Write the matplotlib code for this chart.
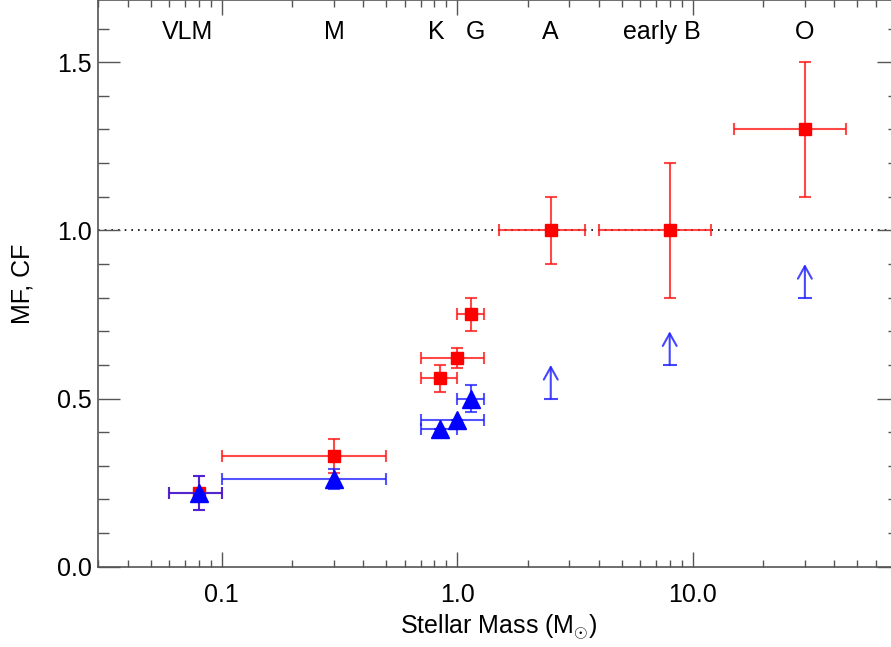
import numpy as np
import matplotlib
matplotlib.use("Agg")
import matplotlib.pyplot as plt
from matplotlib.ticker import FixedLocator, MultipleLocator, LogLocator, FormatStrFormatter, NullFormatter

plt.rcParams["font.family"] = ["Liberation Sans", "DejaVu Sans"]
plt.rcParams["mathtext.fontset"] = "custom"
plt.rcParams["mathtext.rm"] = "Liberation Sans"
plt.rcParams["mathtext.it"] = "Liberation Sans:italic"

# multiplicity fraction (red squares)
mf_mass = [0.08, 0.3, 0.85, 1.0, 1.15, 2.5, 8.0, 30.0]
mf_lo = [0.06, 0.1, 0.7, 0.7, 1.0, 1.5, 4.0, 15.0]
mf_hi = [0.1, 0.5, 1.0, 1.3, 1.3, 3.5, 12.0, 45.0]
mf_val = [0.22, 0.33, 0.56, 0.62, 0.75, 1.0, 1.0, 1.3]
mf_err = [0.05, 0.05, 0.04, 0.03, 0.05, 0.1, 0.2, 0.2]

# companion frequency (blue triangles)
cf_mass = [0.08, 0.3, 0.85, 1.0, 1.15]
cf_lo = [0.06, 0.1, 0.7, 0.7, 1.0]
cf_hi = [0.1, 0.5, 1.0, 1.3, 1.3]
cf_val = [0.22, 0.26, 0.41, 0.437, 0.50]
cf_err = [0.05, 0.03, 0.0, 0.0, 0.04]

# CF lower limits (arrows)
lim_mass = [2.5, 8.0, 30.0]
lim_val = [0.5, 0.6, 0.8]

# spectral type labels
sp_names = ["VLM", "M", "K", "G", "A", "early B", "O"]
sp_mass = [0.072, 0.30, 0.815, 1.2, 2.5, 7.4, 30.0]

fig = plt.figure(figsize=(8.91, 6.47), dpi=100)
ax = fig.add_axes([0.1105, 0.124, 0.898, 0.876])
ax.set_xscale("log")
ax.set_xlim(0.03, 75)
ax.set_ylim(0.0, 1.685)

ax.axhline(1.0, color="black", ls=(0, (1, 3)), lw=1.2, zorder=1)

def xerrs(m, lo, hi):
    m = np.array(m)
    return [m - np.array(lo), np.array(hi) - m]

ax.errorbar(mf_mass, mf_val, yerr=mf_err, xerr=xerrs(mf_mass, mf_lo, mf_hi),
            fmt="s", color="red", ecolor=(1, 0.1, 0.1, 0.8), ms=9, capsize=4,
            elinewidth=1.5, capthick=1.5, zorder=3)
ax.errorbar(cf_mass, cf_val, yerr=cf_err, xerr=xerrs(cf_mass, cf_lo, cf_hi),
            fmt="^", color="blue", ecolor=(0.1, 0.1, 1, 0.75), ms=13, capsize=4,
            elinewidth=1.5, capthick=1.5, zorder=4)

for m, v in zip(lim_mass, lim_val):
    ax.annotate("", xy=(m, v + 0.1), xytext=(m, v),
                arrowprops=dict(arrowstyle="->,head_length=0.9,head_width=0.5",
                                color=(0.15, 0.15, 1, 0.85), lw=1.5,
                                shrinkA=0, shrinkB=0))
    ax.plot([m], [v], marker="_", ms=10, mew=1.5, color=(0.15, 0.15, 1, 0.85))

for name, m in zip(sp_names, sp_mass):
    ax.text(m, 1.59, name, ha="center", va="center", fontsize=18)

ax.xaxis.set_major_locator(FixedLocator([0.1, 1.0, 10.0]))
ax.xaxis.set_minor_locator(LogLocator(base=10, subs=np.arange(2, 10)))
ax.xaxis.set_major_formatter(FormatStrFormatter("%.1f"))
ax.xaxis.set_minor_formatter(NullFormatter())
ax.yaxis.set_major_locator(MultipleLocator(0.5))
ax.yaxis.set_minor_locator(MultipleLocator(0.1))
ax.yaxis.set_major_formatter(FormatStrFormatter("%.1f"))

ax.tick_params(axis="both", which="both", direction="in", top=True, right=True,
               color="#555555", width=1.0, labelsize=18)
ax.tick_params(axis="x", which="major", length=11, pad=12)
ax.tick_params(axis="x", which="minor", length=5)
ax.tick_params(axis="y", which="major", length=16, pad=5)
ax.tick_params(axis="y", which="minor", length=8)
for s in ax.spines.values():
    s.set_color("#555555")
    s.set_linewidth(1.2)

ax.set_xlabel(r"Stellar Mass ($\mathrm{M}_{\odot}$)", fontsize=18, labelpad=4)
ax.set_ylabel("MF, CF", fontsize=18, labelpad=16)

fig.savefig("out.png", dpi=100)
